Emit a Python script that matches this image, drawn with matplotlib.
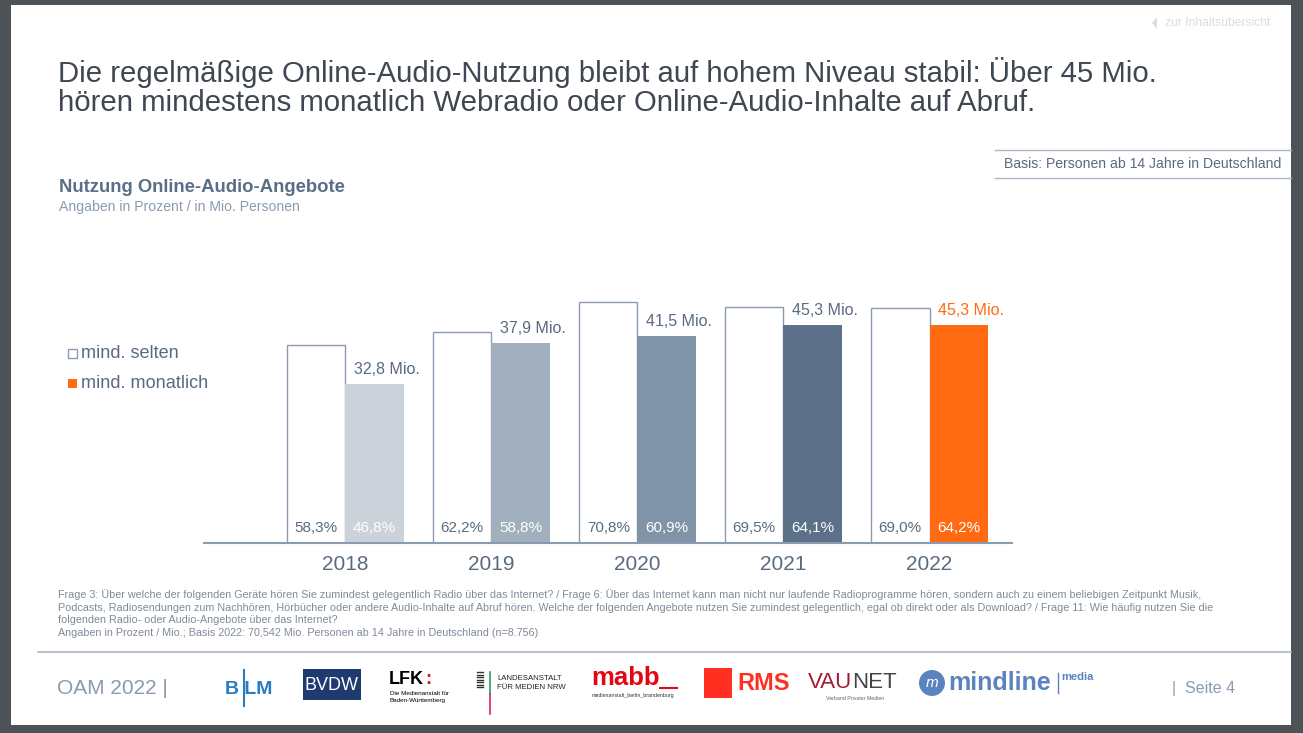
import matplotlib
matplotlib.use("Agg")
import matplotlib.pyplot as plt
from matplotlib.patches import Rectangle, Ellipse, Polygon

plt.rcParams["font.family"] = ["Liberation Sans", "DejaVu Sans"]

W, H = 1303, 733

years = ["2018", "2019", "2020", "2021", "2022"]
selten = [58.3, 62.2, 70.8, 69.5, 69.0]
monatlich = [46.8, 58.8, 60.9, 64.1, 64.2]
mio = [32.8, 37.9, 41.5, 45.3, 45.3]
bar_colors = ["#CBD2DA", "#A2AFBD", "#8094A8", "#5C7189", "#FF6A13"]
mio_text_colors = ["#5A6B80", "#5A6B80", "#5A6B80", "#5A6B80", "#FF6A13"]

title = ("Die regelmäßige Online-Audio-Nutzung bleibt auf hohem Niveau stabil: Über 45 Mio.\n"
         "hören mindestens monatlich Webradio oder Online-Audio-Inhalte auf Abruf.")
footnotes = [
    "Frage 3: Über welche der folgenden Geräte hören Sie zumindest gelegentlich Radio über das Internet? / Frage 6: Über das Internet kann man nicht nur laufende Radioprogramme hören, sondern auch zu einem beliebigen Zeitpunkt Musik,",
    "Podcasts, Radiosendungen zum Nachhören, Hörbücher oder andere Audio-Inhalte auf Abruf hören. Welche der folgenden Angebote nutzen Sie zumindest gelegentlich, egal ob direkt oder als Download? / Frage 11: Wie häufig nutzen Sie die",
    "folgenden Radio- oder Audio-Angebote über das Internet?",
    "Angaben in Prozent / Mio.; Basis 2022: 70,542 Mio. Personen ab 14 Jahre in Deutschland (n=8.756)",
]

SLATE = "#5A6B80"
EDGE = "#8A9BB0"


def de(v):
    # German decimal comma
    return f"{v:.1f}".replace(".", ",")


def fx(x):
    return x / W


def fy(y):
    return 1 - y / H


def txt(x, y, s, **kw):
    fig.text(fx(x), fy(y), s, **kw)


def rect(x0, y0, x1, y1, **kw):
    # pixel box (top-left x0,y0 / bottom-right x1,y1) in figure coords
    fig.patches.append(Rectangle((fx(x0), fy(y1)), (x1 - x0) / W, (y1 - y0) / H,
                                 transform=fig.transFigure, **kw))


def hline(x0, x1, y, **kw):
    fig.add_artist(plt.Line2D([fx(x0), fx(x1)], [fy(y), fy(y)], **kw))


def vline(x, y0, y1, **kw):
    fig.add_artist(plt.Line2D([fx(x), fx(x)], [fy(y0), fy(y1)], **kw))


fig = plt.figure(figsize=(W / 100, H / 100), dpi=100, facecolor="#4D5257")
rect(11, 5, 1291, 725, facecolor="white", edgecolor="none", zorder=-10)

# chart area
ax = fig.add_axes([fx(204), fy(543), fx(1012) - fx(204), (543 - 271) / H])
ax.set_zorder(5)
ax.set_xlim(-0.969, 4.565)
ax.set_ylim(0, 80)
x = list(range(len(years)))
bw = 0.40
ax.bar([i - bw / 2 for i in x], selten, width=bw, color="white", edgecolor=EDGE, linewidth=1, zorder=2)
ax.bar([i + bw / 2 for i in x], monatlich, width=bw, color=bar_colors, edgecolor="none", zorder=2)
for i in x:
    ax.text(i - bw / 2, 2.5, de(selten[i]) + "%", ha="center", va="bottom",
            fontsize=11, color=SLATE, zorder=3)
    ax.text(i + bw / 2, 2.5, de(monatlich[i]) + "%", ha="center", va="bottom",
            fontsize=11, color="white", zorder=3)
    ax.annotate(de(mio[i]) + " Mio.", (i + bw / 2, monatlich[i]),
                xytext=(9, 5), textcoords="offset points", ha="center", va="bottom",
                fontsize=11.5, color=mio_text_colors[i])
ax.set_xticks(x)
ax.set_xticklabels(years, fontsize=15, color=SLATE)
ax.tick_params(axis="x", length=0, pad=9)
ax.set_yticks([])
for s in ["top", "left", "right"]:
    ax.spines[s].set_visible(False)
ax.spines["bottom"].set_color(EDGE)
ax.spines["bottom"].set_linewidth(1.5)
ax.set_facecolor("none")

# legend
rect(68, 349, 77, 358, facecolor="white", edgecolor=EDGE, linewidth=1)
rect(68, 379, 77, 388, facecolor="#FF6A13", edgecolor="none")
txt(81, 354, "mind. selten", fontsize=13.1, color=SLATE, va="center")
txt(81, 383, "mind. monatlich", fontsize=13.1, color=SLATE, va="center")

# headings
txt(58, 87, title, fontsize=21.2, color="#3F4752", va="center", linespacing=1.04)
txt(59, 188, "Nutzung Online-Audio-Angebote", fontsize=13.3, fontweight="bold", color="#5A6E87", va="center")
txt(59, 207, "Angaben in Prozent / in Mio. Personen", fontsize=10.1, color="#8C9CB0", va="center")
txt(1004, 164, "Basis: Personen ab 14 Jahre in Deutschland", fontsize=10.1, color=SLATE, va="center")
hline(995, 1291, 150, color="#A9B6C6", lw=1)
hline(995, 1291, 178, color="#A9B6C6", lw=1)
txt(1165, 23, "zur Inhaltsübersicht", fontsize=8.7, color="#D8DCE2", va="center")
fig.patches.append(Polygon([(fx(1152), fy(23)), (fx(1157), fy(17)), (fx(1157), fy(29))],
                           transform=fig.transFigure, facecolor="#D8DCE2", edgecolor="none"))

# footnotes
for k, line in enumerate(footnotes):
    txt(58, 595 + k * 12.6, line, fontsize=7.75, color="#7F8A99", va="center")

# footer
hline(38, 1291, 652, color="#A9B6C6", lw=1.2)
txt(57, 688, "OAM 2022 |", fontsize=15, color=EDGE, va="center")
txt(1172, 689, "|  Seite 4", fontsize=11.5, color=EDGE, va="center")

# partner logos (text approximations)
txt(249, 689, "B LM", fontsize=14, fontweight="bold", color="#2A7BC0", va="center", ha="center")
vline(244, 706, 670, color="#2A7BC0", lw=1.5)
rect(303, 669, 361, 700, facecolor="#1E3A6E", edgecolor="none")
txt(332, 686, "BVDW", fontsize=13, color="white", va="center", ha="center")
txt(389, 679, "LFK", fontsize=13, fontweight="bold", color="black", va="center")
txt(425, 679, ":", fontsize=13, fontweight="bold", color="#E30613", va="center")
txt(390, 697, "Die Medienanstalt für\nBaden-Württemberg", fontsize=4.5, color="black", va="center",
    linespacing=1.3)
for k in range(7):
    hline(477, 483, 672 + k * 2.5, color="#333333", lw=1)
vline(490, 672, 694, color="#2E9E5B", lw=1.2)
vline(490, 694, 714, color="#E0245E", lw=1.2)
txt(497, 683, "LANDESANSTALT\nFÜR MEDIEN NRW", fontsize=5.6, color="#222222", va="center",
    linespacing=1.35)
txt(591, 678, "mabb", fontsize=18.5, fontweight="bold", color="#E30613", va="center")
hline(660, 677, 688, color="#E30613", lw=1.5)
txt(592, 696, "medienanstalt_berlin_brandenburg", fontsize=3.8, color="#333333", va="center")
rect(704, 668, 732, 698, facecolor="#FF3020", edgecolor="none")
txt(737, 684, "RMS", fontsize=17, fontweight="bold", color="#FF3020", va="center")
txt(808, 683, "VAU", fontsize=16, color="#A51C30", va="center")
txt(852, 683, "NET", fontsize=16, color="#444444", va="center")
txt(826, 698, "Verband Privater Medien", fontsize=3.8, color="#666666", va="center")
fig.patches.append(Ellipse((fx(932), fy(683)), 26 / W, 26 / H, transform=fig.transFigure,
                           facecolor="#5B83BD", edgecolor="none"))
txt(932, 683, "m", fontsize=11, color="white", va="center", ha="center", style="italic")
txt(948, 683, "mindline", fontsize=18, fontweight="bold", color="#5B83BD", va="center")
vline(1058, 673, 693, color="#5B83BD", lw=1)
txt(1061, 677, "media", fontsize=8, fontweight="bold", color="#5B83BD", va="center")

fig.savefig("out.png", dpi=100, facecolor=fig.get_facecolor())
